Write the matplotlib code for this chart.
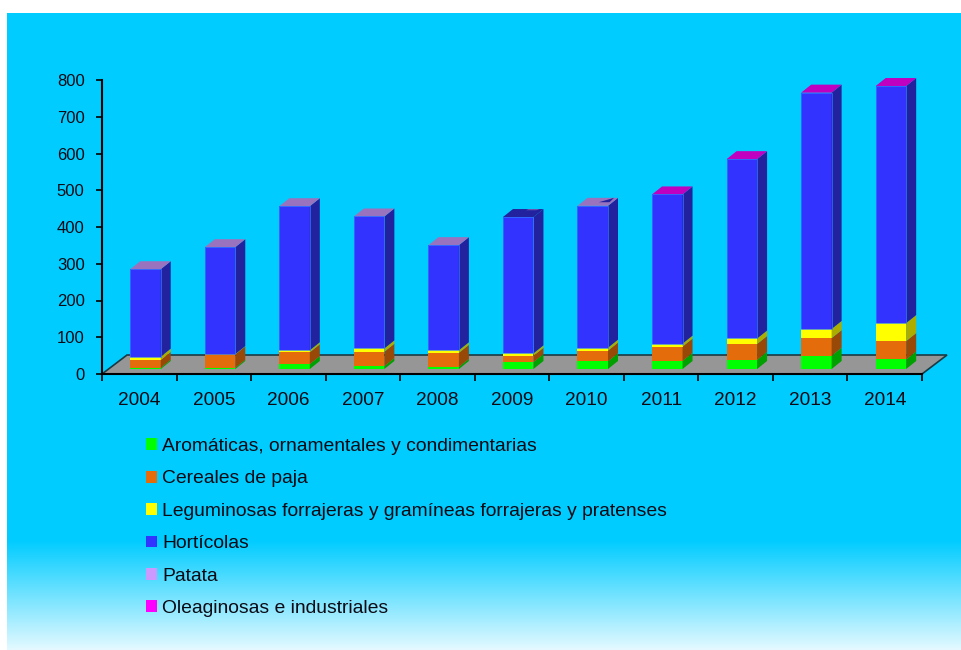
import numpy as np
import matplotlib
matplotlib.use("Agg")
import matplotlib.pyplot as plt
from matplotlib.patches import Patch

plt.rcParams['font.family'] = ['Liberation Sans', 'DejaVu Sans']

years = ['2004', '2005', '2006', '2007', '2008', '2009', '2010', '2011', '2012', '2013', '2014']
names = ['Aromáticas, ornamentales y condimentarias', 'Cereales de paja',
         'Leguminosas forrajeras y gramíneas forrajeras y pratenses',
         'Hortícolas', 'Patata', 'Oleaginosas e industriales']

aromaticas = [3.5, 3.5, 13.5, 8, 6, 19, 21, 22, 25, 36, 26]
cereales = [21, 36, 32, 39, 38, 17, 29, 39, 43, 48, 50]
leguminosas = [9, 1, 5.5, 9, 7, 6.5, 8, 8, 15, 25, 49]
horticolas = [238, 291, 392, 359, 286, 371, 386, 406, 488, 643, 645]
series = [aromaticas, cereales, leguminosas, horticolas]

front_cols = ['#00FF00', '#E46C0A', '#FFFF00', '#3333FF']
side_cols = ['#00A000', '#984807', '#ADAD00', '#22229E']
legend_cols = ['#00FF00', '#E46C0A', '#FFFF00', '#3333FF', '#CC99FF', '#FF00FF']
# colour of the top of each bar (patata, or oleaginosas from 2011)
cap_cols = ['#9A73BF'] * 5 + ['#22229E', '#9A73BF'] + ['#C000C0'] * 4

W, H = 961, 650
fig = plt.figure(figsize=(W / 100, H / 100), dpi=100, facecolor='white')

# background box
bg = fig.add_axes([7 / W, 0, 1 - 7 / W, 1 - 13 / H])
bg.axis('off')
grad = np.ones((637, 1, 3))
top = np.array([0, 204, 255]) / 255
t = np.clip((np.arange(637) - 527) / 110, 0, 1)[:, None]
grad[:, 0, :] = top * (1 - t) + np.array([0.9, 0.98, 1.0]) * t
bg.imshow(grad, aspect='auto')

ax = fig.add_axes([102 / W, (H - 374) / H, 820 / W, 294 / H])
ax.patch.set_alpha(0)
ax.set_xlim(0, 11)
ax.set_ylim(0, 800)
px_x = 11 / 820
px_y = 800 / 294

# floor
dx, dy = 25 * px_x, 19 * px_y
ax.fill([0, 11, 11 + dx, dx], [0, 0, dy, dy], facecolor='#969696', edgecolor='#1B3A44', lw=1.2, clip_on=False, zorder=1)

# bars
xs = np.arange(11) + 0.5 + 6.2 * px_x
w = 30.5 * px_x
bx, by = 10 * px_x, 8 * px_y
base = np.full(11, 5 * px_y)
for vals, fc, sc in zip(series, front_cols, side_cols):
    vals = np.array(vals, dtype=float)
    ax.bar(xs, vals, w, bottom=base, color=fc, edgecolor='none', zorder=3, clip_on=False)
    for x, b, v in zip(xs, base, vals):
        r = x + w / 2
        ax.fill([r, r + bx, r + bx, r], [b, b + by, b + v + by, b + v], color=sc, lw=0, zorder=3, clip_on=False)
    base = base + vals

# thin light outline the blue segment has in the reference
ax.bar(xs, horticolas, w, bottom=base - np.array(horticolas), facecolor='none', edgecolor='#2E7BFF', lw=0.5, zorder=3.5, clip_on=False)

# tops
for i, (x, b) in enumerate(zip(xs, base)):
    l, r = x - w / 2, x + w / 2
    ax.fill([l, r, r + bx, l + bx], [b, b, b + by, b + by], color=cap_cols[i], lw=0, zorder=3, clip_on=False)
# small leftovers on 2009 and 2010
l = xs[5] - w / 2
ax.fill([l + 0.75 * w, l + 1.1 * w, l + 1.2 * w, l + 0.85 * w],
        [base[5] + 0.85 * by, base[5] + 0.85 * by, base[5] + by, base[5] + by], color='#6A55B0', lw=0, zorder=4, clip_on=False)
l = xs[6] - w / 2
ax.fill([l + 0.7 * w, l + 1.05 * w, l + 1.2 * w],
        [base[6] + 0.45 * by, base[6] + 0.45 * by, base[6] + by], color='#22229E', lw=0, zorder=4, clip_on=False)

# axes
for s in ['top', 'right']:
    ax.spines[s].set_visible(False)
ax.spines['left'].set_linewidth(1.5)
ax.spines['bottom'].set_linewidth(1.5)
ax.set_yticks(range(0, 801, 100))
ax.set_xticks(range(12))
ax.set_xticklabels([])
ax.set_xticks(np.arange(11) + 0.5, years, minor=True)
ax.tick_params(axis='x', which='major', length=5, width=1.2)
ax.tick_params(axis='x', which='minor', length=0, pad=13, labelsize=13.7, labelcolor='#0A0A14')
ax.tick_params(axis='y', length=4, width=1.2, pad=8.5, labelsize=12, labelcolor='#0A0A14')

handles = [Patch(facecolor=c, edgecolor='none') for c in legend_cols]
fig.legend(handles, names, loc='upper left', bbox_to_anchor=(146 / W, 1 - 438 / H), borderaxespad=0, borderpad=0,
           frameon=False, fontsize=13.9, handlelength=0.57, handleheight=0.57, handletextpad=0.26, labelspacing=0.80,
           labelcolor='#0A0A14')

fig.savefig('out.png', dpi=100)
